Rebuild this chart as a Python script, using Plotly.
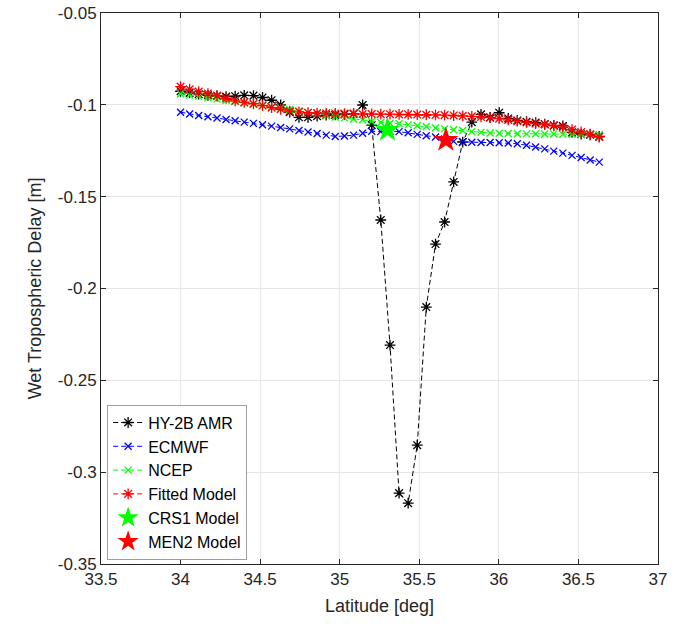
import plotly.graph_objects as go

lat = [34.000, 34.057, 34.114, 34.172, 34.229, 34.286, 34.343, 34.400, 34.458, 34.515,
       34.572, 34.629, 34.686, 34.744, 34.801, 34.858, 34.915, 34.972, 35.030, 35.087,
       35.144, 35.201, 35.258, 35.316, 35.373, 35.430, 35.487, 35.544, 35.602, 35.659,
       35.716, 35.773, 35.830, 35.888, 35.945, 36.002, 36.059, 36.116, 36.174, 36.231,
       36.288, 36.345, 36.402, 36.460, 36.517, 36.574, 36.631]

hy2b = [-0.0926, -0.0935, -0.0942, -0.0948, -0.0952, -0.0955, -0.0953, -0.0948, -0.0950, -0.0960,
        -0.0975, -0.1000, -0.1040, -0.1068, -0.1068, -0.1062, -0.1056, -0.1055, -0.1052, -0.1048,
        -0.1001, -0.1110, -0.1627, -0.2308, -0.3114, -0.3169, -0.2853, -0.2101, -0.1758, -0.1638,
        -0.1420, -0.1203, -0.1094, -0.1052, -0.1068, -0.1043, -0.1074, -0.1085, -0.1092, -0.1097,
        -0.1105, -0.1112, -0.1115, -0.1150, -0.1160, -0.1163, -0.1172]

ecmwf = [-0.1040, -0.1050, -0.1058, -0.1065, -0.1072, -0.1080, -0.1087, -0.1094, -0.1101, -0.1108,
         -0.1116, -0.1123, -0.1131, -0.1140, -0.1148, -0.1156, -0.1165, -0.1172, -0.1170, -0.1165,
         -0.1155, -0.1144, -0.1146, -0.1143, -0.1146, -0.1152, -0.1161, -0.1168, -0.1175, -0.1186,
         -0.1199, -0.1201, -0.1204, -0.1205, -0.1205, -0.1206, -0.1208, -0.1212, -0.1220, -0.1230,
         -0.1240, -0.1252, -0.1263, -0.1275, -0.1287, -0.1300, -0.1312]

ncep = [-0.0940, -0.0947, -0.0954, -0.0961, -0.0968, -0.0975, -0.0982, -0.0990, -0.0997, -0.1004,
        -0.1011, -0.1018, -0.1025, -0.1033, -0.1041, -0.1050, -0.1058, -0.1066, -0.1071, -0.1077,
        -0.1081, -0.1090, -0.1096, -0.1100, -0.1103, -0.1109, -0.1114, -0.1118, -0.1126, -0.1131,
        -0.1136, -0.1140, -0.1146, -0.1150, -0.1153, -0.1155, -0.1156, -0.1157, -0.1158, -0.1158,
        -0.1159, -0.1159, -0.1160, -0.1160, -0.1161, -0.1161, -0.1162]

fitted = [-0.0901, -0.0915, -0.0928, -0.0939, -0.0950, -0.0965, -0.0978, -0.0986, -0.0994, -0.1004,
          -0.1015, -0.1024, -0.1034, -0.1038, -0.1043, -0.1045, -0.1046, -0.1047, -0.1048, -0.1049,
          -0.1050, -0.1050, -0.1051, -0.1051, -0.1052, -0.1052, -0.1053, -0.1054, -0.1055, -0.1056,
          -0.1058, -0.1060, -0.1063, -0.1066, -0.1070, -0.1075, -0.1082, -0.1089, -0.1096, -0.1102,
          -0.1107, -0.1114, -0.1122, -0.1135, -0.1148, -0.1160, -0.1175]

crs1_lat = [35.30]
crs1_val = [-0.1137]
men2_lat = [35.667]
men2_val = [-0.1192]

x_ticks = [33.5, 34, 34.5, 35, 35.5, 36, 36.5, 37]
x_ticktext = ["33.5", "34", "34.5", "35", "35.5", "36", "36.5", "37"]
y_ticks = [-0.35, -0.3, -0.25, -0.2, -0.15, -0.1, -0.05]
y_ticktext = ["-0.35", "-0.3", "-0.25", "-0.2", "-0.15", "-0.1", "-0.05"]

FONT = "Liberation Sans, Arial, sans-serif"
DASH = "5px,3px"

fig = go.Figure()

def line_trace(y, name, color, symbol, size):
    return go.Scatter(
        x=lat, y=y, name=name, mode="lines+markers",
        line=dict(color=color, width=1, dash=DASH),
        marker=dict(symbol=symbol, size=size, color=color,
                    line=dict(color=color, width=1.3)),
    )

fig.add_trace(line_trace(hy2b, "HY-2B AMR", "#000000", "asterisk-open", 9))
fig.add_trace(line_trace(ecmwf, "ECMWF", "#0000ff", "x-thin-open", 7))
fig.add_trace(line_trace(ncep, "NCEP", "#00ff00", "x-thin-open", 7))
fig.add_trace(line_trace(fitted, "Fitted Model", "#ff0000", "asterisk-open", 9))
fig.add_trace(go.Scatter(x=crs1_lat, y=crs1_val, name="CRS1 Model", mode="markers",
                         marker=dict(symbol="star", size=19, color="#00ff00",
                                     line=dict(width=0))))
fig.add_trace(go.Scatter(x=men2_lat, y=men2_val, name="MEN2 Model", mode="markers",
                         marker=dict(symbol="star", size=19, color="#ff0000",
                                     line=dict(width=0))))

axis_common = dict(
    showgrid=True, gridcolor="#e6e6e6", gridwidth=1,
    showline=True, linecolor="#262626", linewidth=1, mirror="allticks",
    ticks="inside", ticklen=5, tickcolor="#262626",
    tickfont=dict(family=FONT, size=17, color="#262626"),
    zeroline=False, automargin=False, ticklabeloverflow="allow",
)

fig.update_layout(
    width=687, height=627,
    margin=dict(l=101, r=29, t=13, b=63),
    paper_bgcolor="white", plot_bgcolor="white",
    font=dict(family=FONT, color="#262626"),
    xaxis=dict(range=[33.5, 37], tickvals=x_ticks, ticktext=x_ticktext,
               title=dict(text="Latitude [deg]", font=dict(family=FONT, size=18, color="#262626"),
                          standoff=10),
               **axis_common),
    yaxis=dict(range=[-0.35, -0.05], tickvals=y_ticks, ticktext=y_ticktext,
               title=dict(text="Wet Tropospheric Delay [m]", font=dict(family=FONT, size=18, color="#262626"),
                          standoff=11),
               **axis_common),
    legend=dict(x=0.011, y=0.008, xanchor="left", yanchor="bottom",
                bgcolor="white", bordercolor="#a0a0a0", borderwidth=1,
                font=dict(family=FONT, size=16, color="#000000"),
                itemwidth=30, tracegroupgap=0),
    showlegend=True,
)

fig.write_html("out.html",
               config={"displayModeBar": False},
               post_script="document.body.style.margin='0';document.body.style.overflow='hidden';")
